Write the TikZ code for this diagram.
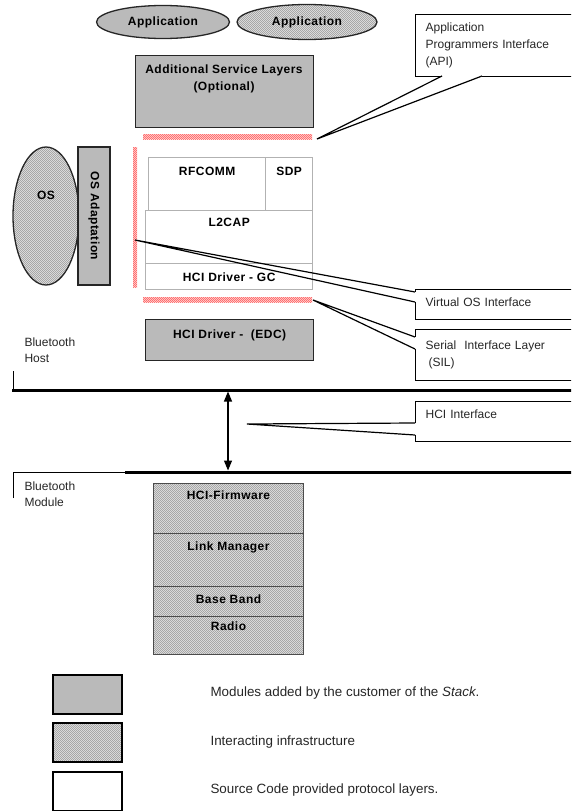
\documentclass[tikz,border=0pt]{standalone}
\usepackage{fontspec}
\setmainfont{Liberation Sans}
\newfontfamily\lblfont[LetterSpace=4]{Liberation Sans}
\usepackage{tikz}
\usetikzlibrary{positioning, shapes.geometric, arrows.meta, patterns}

\pgfdeclarepatternformonly{finehatch}{\pgfqpoint{-1pt}{-1pt}}{\pgfqpoint{3pt}{3pt}}{\pgfqpoint{2pt}{2pt}}{%
  \pgfsetlinewidth{0.45pt}%
  \pgfpathmoveto{\pgfqpoint{0pt}{0pt}}%
  \pgfpathlineto{\pgfqpoint{2.1pt}{2.1pt}}%
  \pgfusepath{stroke}}

\begin{document}
\begin{tikzpicture}[
      x=1pt, y=-1pt,
      every node/.style={font=\fontsize{12}{17}\selectfont, text=black!85},
      lbl/.style={font=\lblfont\fontsize{12}{17}\selectfont\bfseries, text=black},
      keytxt/.style={anchor=west, font=\fontsize{13.4}{17}\selectfont},
      hatchfill/.style={preaction={fill=black!8}, pattern=finehatch, pattern color=black!40},
      custbox/.style={draw=black!85, line width=1.3pt, fill=black!27, anchor=north west, inner sep=0pt, lbl},
      infrabox/.style={draw=black!70, line width=1pt, hatchfill, anchor=north west, inner sep=0pt, lbl},
      srcbox/.style={draw=black!30, line width=1.3pt, fill=white, anchor=north west, inner sep=0pt, lbl},
      appell/.style={ellipse, draw=black!85, line width=1.3pt, inner sep=0pt, lbl},
      redbar/.style={preaction={fill=red!12}, pattern=finehatch, pattern color=red!65, anchor=north west, inner sep=0pt},
      callout/.style={draw, line width=1.2pt, anchor=north west, align=left, text width=140pt, inner xsep=10pt, inner ysep=4pt},
      callline/.style={line width=1.2pt},
      thinline/.style={line width=0.8pt},
      busline/.style={line width=3pt},
      arr/.style={{Triangle[width=8pt,length=10pt]}-{Triangle[width=8pt,length=10pt]}, line width=1.2pt},
    ]
    \useasboundingbox (0,0) rectangle (571,811);
    \clip (0,0) rectangle (571,811);

    %% Applications
    \node[appell, fill=black!27, minimum width=133pt, minimum height=33pt] (app1) at (163,22) {Application};
    \node[appell, hatchfill, minimum width=140pt, minimum height=35pt] (app2) at (307,22) {Application};

    %% Additional service layers
    \node[custbox, minimum width=178pt, minimum height=72pt] (asl) at (135,55) {};
    \node[lbl, align=center] (asltxt) at (224,79) {Additional Service Layers\\(Optional)};

    %% Interface bars
    \node[redbar, minimum width=169pt, minimum height=5pt] (apibar) at (143,134) {};
    \node[redbar, minimum width=4pt, minimum height=140pt] (vosbar) at (133,147) {};
    \node[redbar, minimum width=169pt, minimum height=5pt] (silbar) at (143,297) {};

    %% OS side
    \node[ellipse, draw=black!85, line width=1.3pt, hatchfill, minimum width=66pt, minimum height=138pt, inner sep=0pt] (os) at (46,216) {};
    \node[lbl] (ostxt) at (46,195) {OS};
    \node[custbox, rotate=-90, anchor=center, minimum width=138pt, minimum height=32pt] (osadapt) at (94,216) {OS Adaptation};

    %% Protocol layers (source code)
    \node[srcbox, minimum width=117pt, text height=18pt, text depth=35pt] (rfcomm) at (148,157) {RFCOMM};
    \node[srcbox, minimum width=47pt, text height=18pt, text depth=35pt] (sdp) at (265,157) {SDP};
    \node[srcbox, minimum width=167pt, text height=16pt, text depth=37pt] (l2cap) at (145,210) {L2CAP};
    \node[srcbox, minimum width=167pt, text height=18pt, text depth=8pt] (hcigc) at (145,263) {HCI Driver - GC};

    %% Customer driver
    \node[custbox, minimum width=168pt, text height=19pt, text depth=22pt] (edc) at (145,319) {HCI Driver -~~(EDC)};

    %% Host / module separation
    \node[anchor=west, align=left, font=\fontsize{12}{16}\selectfont] (hostlbl) at (21,350) {Bluetooth\\Host};
    \draw[thinline] (13,371) -- (13,390);
    \draw[busline] (12,390) -- (575,390);
    \node[anchor=west, align=left, font=\fontsize{12}{16}\selectfont] (modlbl) at (21,494) {Bluetooth\\Module};
    \draw[thinline] (13,498) -- (13,472) -- (125,472);
    \draw[busline] (125,472) -- (575,472);

    \coordinate (hostbus) at (228,391.5);
    \coordinate (modbus) at (228,470.5);
    \draw[arr] (hostbus) -- (modbus);

    %% Module stack (infrastructure)
    \node[infrabox, minimum width=150pt, text height=16pt, text depth=34pt] (hcifw) at (153,483) {HCI-Firmware};
    \node[infrabox, minimum width=150pt, text height=17pt, text depth=36pt] (linkmgr) at (153,533) {Link Manager};
    \node[infrabox, minimum width=150pt, text height=17pt, text depth=13pt] (baseband) at (153,586) {Base Band};
    \node[infrabox, minimum width=150pt, text height=14pt, text depth=24pt] (radio) at (153,616) {Radio};

    %% Callouts
    \node[callout, minimum height=62pt] (api) at (415,14) {Application\\Programmers Interface\\(API)};
    \node[callout, inner ysep=0pt, text height=17pt, text depth=13pt] (vos) at (415,289) {Virtual OS Interface};
    \node[callout, minimum height=51pt] (sil) at (415,329) {Serial~~Interface Layer\\\hspace*{3pt}(SIL)};
    \node[callout, inner ysep=0pt, text height=17pt, text depth=23pt] (hciif) at (415,401) {HCI Interface};

    %% Callout pointers
    \coordinate (apitip) at (317,139);
    \coordinate (apiA) at (442,76);
    \coordinate (apiB) at (482,76);
    \draw[white, line width=2pt] (apiA) -- (apiB);
    \draw[callline] (apiA) -- (apitip) -- (apiB);

    \coordinate (vostip) at (135,240);
    \coordinate (vosA) at (415,292);
    \coordinate (vosB) at (415,302);
    \draw[white, line width=2pt] (vosA) -- (vosB);
    \draw[callline] (vosA) -- (vostip) -- (vosB);

    \coordinate (siltip) at (313,300);
    \coordinate (silA) at (415,337);
    \coordinate (silB) at (415,349);
    \draw[white, line width=2pt] (silA) -- (silB);
    \draw[callline] (silA) -- (siltip) -- (silB);

    \coordinate (hcitip) at (247,424);
    \coordinate (hciA) at (415,423);
    \coordinate (hciB) at (415,435);
    \draw[white, line width=2pt] (hciA) -- (hciB);
    \draw[callline] (hciA) -- (hcitip) -- (hciB);

    %% Legend
    \node[custbox, draw=black, line width=1.5pt, minimum width=69pt, minimum height=39pt] (key1) at (52,674) {};
    \node[infrabox, draw=black, line width=1.5pt, minimum width=69pt, minimum height=39pt] (key2) at (52,722) {};
    \node[srcbox, draw=black, line width=1.5pt, minimum width=69pt, minimum height=39pt] (key3) at (52,771) {};
    \node[keytxt] (key1txt) at (207,693) {Modules added by the customer of the \textit{Stack}.};
    \node[keytxt] (key2txt) at (207,742) {Interacting infrastructure};
    \node[keytxt] (key3txt) at (207,790) {Source Code provided protocol layers.};
  \end{tikzpicture}
\end{document}
